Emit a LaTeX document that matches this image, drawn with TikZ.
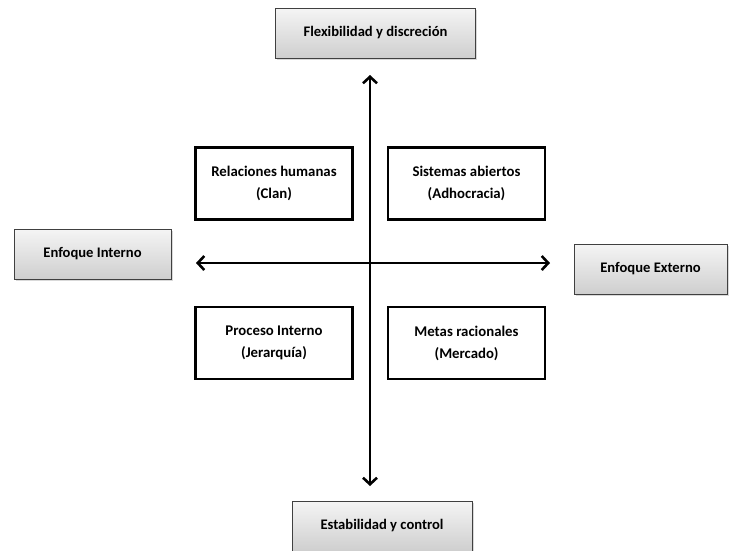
\documentclass[tikz,border=0pt]{standalone}
\usepackage{fontspec}
\setmainfont{Carlito}
\usetikzlibrary{arrows.meta,shadows}
\begin{document}
\begin{tikzpicture}[x=1pt,y=-1pt,
  axisbox/.style={draw=black!75,line width=1pt,top color=gray!8,bottom color=gray!38,
    drop shadow={shadow xshift=1.5pt,shadow yshift=-1.5pt,opacity=0.3},
    font=\bfseries\fontsize{14.6}{17}\selectfont,align=center,inner sep=0pt},
  quad/.style={draw=black,line width=2.6pt,fill=white,minimum width=157pt,minimum height=72pt,
    font=\bfseries\fontsize{14.8}{22}\selectfont,align=center,inner sep=0pt},
  axisarrow/.style={line width=2.8pt,{Straight Barb[length=6.5pt,width=14pt,line width=2.6pt]}-{Straight Barb[length=6.5pt,width=14pt,line width=2.6pt]}}]
\useasboundingbox (0,0) rectangle (732,550);
\node[axisbox,minimum width=200pt,minimum height=50pt] (top) at (375.5,33) {Flexibilidad y discreción};
\node[axisbox,minimum width=157pt,minimum height=50pt] (left) at (92.5,254) {Enfoque Interno};
\node[axisbox,minimum width=153pt,minimum height=50pt] (right) at (650.5,269) {Enfoque Externo};
\node[axisbox,minimum width=180pt,minimum height=50pt] (bottom) at (382,526) {Estabilidad y control};
\coordinate (vt) at (370,75);
\coordinate (vb) at (370,486);
\coordinate (hl) at (196,263);
\coordinate (hr) at (550,263);
\draw[axisarrow] (vt) -- (vb);
\draw[axisarrow] (hl) -- (hr);
\node[quad] (rh) at (274,183.5) {Relaciones humanas\\(Clan)};
\node[quad] (sa) at (466.5,183.5) {Sistemas abiertos\\(Adhocracia)};
\node[quad] (pi) at (274,343) {Proceso Interno\\(Jerarquía)};
\node[quad] (mr) at (466.5,343) {Metas racionales\\(Mercado)};
\end{tikzpicture}
\end{document}
